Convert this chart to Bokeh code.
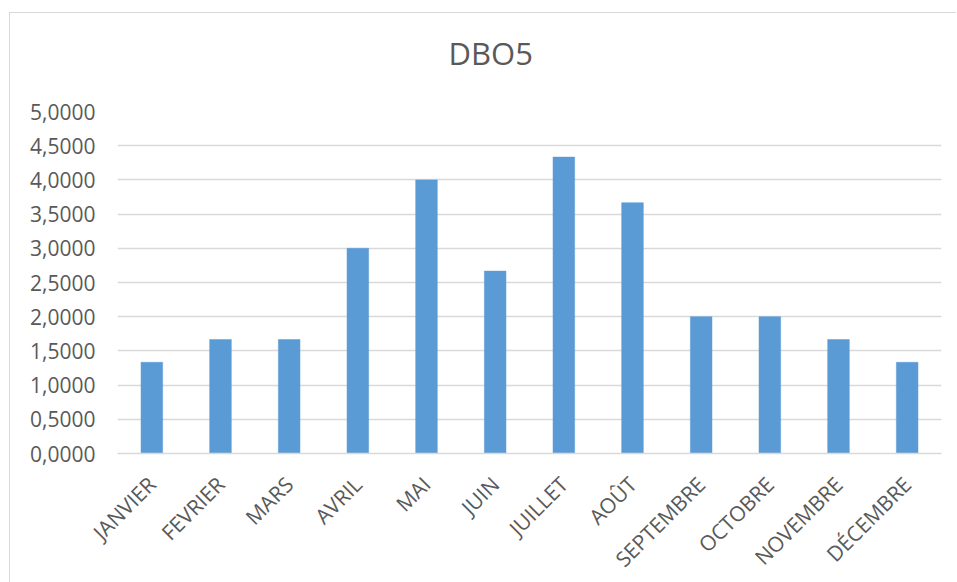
import math

from bokeh.embed import file_html
from bokeh.models import FactorRange, FixedTicker, Range1d, Title
from bokeh.plotting import figure
from bokeh.resources import INLINE

# Monthly DBO5 values
months = ["JANVIER", "FEVRIER", "MARS", "AVRIL", "MAI", "JUIN",
          "JUILLET", "AOÛT", "SEPTEMBRE", "OCTOBRE", "NOVEMBRE", "DÉCEMBRE"]
dbo5 = [1.3333, 1.6667, 1.6667, 3.0, 4.0, 2.6667,
        4.3333, 3.6667, 2.0, 2.0, 1.6667, 1.3333]

y_ticks = [0.0, 0.5, 1.0, 1.5, 2.0, 2.5, 3.0, 3.5, 4.0, 4.5, 5.0]
y_tick_labels = ["0,0000", "0,5000", "1,0000", "1,5000", "2,0000", "2,5000",
                 "3,0000", "3,5000", "4,0000", "4,5000", "5,0000"]

FONT = "Open Sans"
TEXT = "#595959"
GRID = "#d9d9d9"
BAR = "#5b9bd5"

p = figure(
    width=947, height=572,
    x_range=FactorRange(*months),
    y_range=Range1d(0, 5),
    output_backend="svg", toolbar_location=None,
    min_border_left=107, min_border_right=16,
    min_border_top=98, min_border_bottom=132,
)
# chart area: thin grey edge on the top and left
p.styles = {
    "margin-left": "9px",
    "margin-top": "12px",
    "border-left": "1px solid #d9d9d9",
    "border-top": "1px solid #d9d9d9",
}
p.outline_line_color = None
p.background_fill_color = "white"
p.border_fill_color = "white"

# blank gap between the title and the plotting area
p.add_layout(Title(text=" ", standoff=8, text_font_size="10px"), "above")
p.add_layout(Title(
    text="DBO5", align="left", offset=331, standoff=30, vertical_align="top",
    text_font=FONT, text_font_size="31px", text_font_style="normal",
    text_color=TEXT,
), "above")

p.vbar(x=months, top=dbo5, width=0.315, fill_color=BAR, line_color=BAR, line_width=0.5)

# grid
p.xgrid.grid_line_color = None
p.ygrid.ticker = FixedTicker(ticks=y_ticks)
p.ygrid.grid_line_color = GRID
p.ygrid.grid_line_width = 1.3

# y axis
p.yaxis.ticker = FixedTicker(ticks=y_ticks)
p.yaxis.major_label_overrides = dict(zip(y_ticks, y_tick_labels))
p.yaxis.axis_line_color = None
p.yaxis.major_tick_line_color = None
p.yaxis.minor_tick_line_color = None
p.yaxis.major_tick_out = 0
p.yaxis.major_label_standoff = 22
p.yaxis.major_label_text_font = FONT
p.yaxis.major_label_text_font_size = "21px"
p.yaxis.major_label_text_color = TEXT

# x axis
p.xaxis.axis_line_color = GRID
p.xaxis.axis_line_width = 1.3
p.xaxis.major_tick_line_color = None
p.xaxis.major_tick_out = 0
p.xaxis.major_label_orientation = math.pi / 4
p.xaxis.major_label_standoff = 27
p.xaxis.major_label_text_font = FONT
p.xaxis.major_label_text_font_size = "21px"
p.xaxis.major_label_text_color = TEXT

open("out.html", "w").write(file_html(p, INLINE))
